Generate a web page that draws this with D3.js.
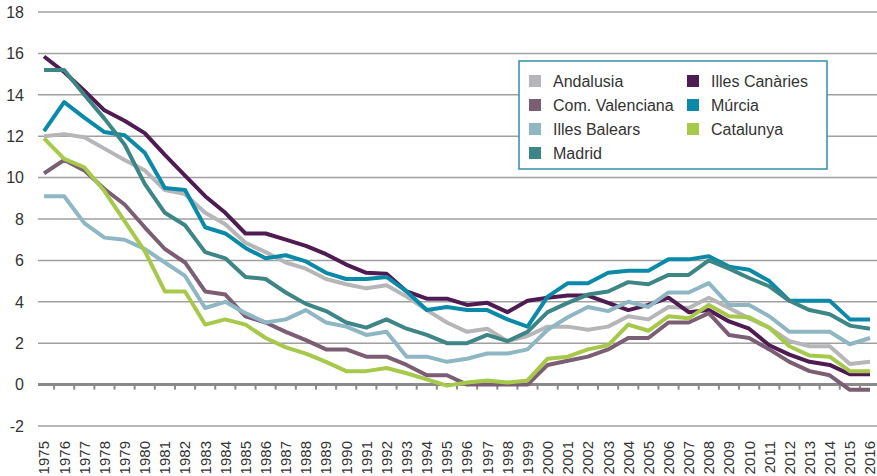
<!DOCTYPE html>
<html>
<head>
<meta charset="utf-8">
<script src="https://cdn.jsdelivr.net/npm/d3@7"></script>
<style>
  body { margin: 0; background: #fff; }
  text { font-family: "Liberation Sans", Arial, sans-serif; fill: #333; }
</style>
</head>
<body>
<script>
// years on the x axis
let years = d3.range(1975, 2017);

let andalusia = [12.0, 12.1, 11.95, 11.4, 10.85, 10.35, 9.4, 9.2, 8.3, 7.75, 6.85, 6.4, 5.9, 5.6, 5.1, 4.85, 4.65, 4.8, 4.25, 3.6, 3.0, 2.55, 2.7, 2.1, 2.35, 2.8, 2.8, 2.65, 2.8, 3.3, 3.15, 3.75, 3.7, 4.2, 3.7, 3.2, 2.75, 2.1, 1.85, 1.85, 1.0, 1.1];
let canaries = [15.85, 15.1, 14.2, 13.25, 12.75, 12.15, 11.1, 10.1, 9.1, 8.3, 7.3, 7.3, 7.0, 6.7, 6.3, 5.8, 5.4, 5.35, 4.5, 4.15, 4.15, 3.85, 3.95, 3.5, 4.05, 4.2, 4.3, 4.3, 3.95, 3.6, 3.85, 4.2, 3.5, 3.6, 3.05, 2.7, 1.9, 1.45, 1.1, 0.95, 0.5, 0.5];
let valenciana = [10.2, 10.85, 10.35, 9.45, 8.7, 7.6, 6.55, 5.9, 4.5, 4.35, 3.3, 3.0, 2.55, 2.15, 1.7, 1.7, 1.35, 1.35, 0.95, 0.45, 0.45, 0.0, 0.0, 0.0, 0.0, 0.95, 1.15, 1.35, 1.7, 2.25, 2.25, 3.0, 3.0, 3.45, 2.4, 2.25, 1.7, 1.1, 0.65, 0.45, -0.25, -0.25];
let murcia = [12.25, 13.65, 12.9, 12.2, 12.05, 11.2, 9.5, 9.4, 7.6, 7.3, 6.6, 6.1, 6.25, 5.95, 5.4, 5.1, 5.1, 5.2, 4.5, 3.6, 3.75, 3.6, 3.6, 3.15, 2.8, 4.25, 4.9, 4.9, 5.4, 5.5, 5.5, 6.05, 6.05, 6.2, 5.7, 5.55, 5.0, 4.05, 4.05, 4.05, 3.15, 3.15];
let balears = [9.1, 9.1, 7.8, 7.1, 7.0, 6.55, 5.9, 5.25, 3.7, 4.0, 3.45, 3.0, 3.15, 3.6, 3.0, 2.8, 2.4, 2.55, 1.35, 1.35, 1.1, 1.25, 1.5, 1.5, 1.7, 2.65, 3.25, 3.75, 3.55, 4.0, 3.75, 4.45, 4.45, 4.9, 3.85, 3.85, 3.3, 2.55, 2.55, 2.55, 1.95, 2.25];
let catalunya = [11.9, 10.9, 10.5, 9.35, 7.9, 6.45, 4.5, 4.5, 2.9, 3.15, 2.9, 2.25, 1.8, 1.5, 1.1, 0.65, 0.65, 0.8, 0.55, 0.25, -0.05, 0.1, 0.2, 0.1, 0.2, 1.25, 1.35, 1.7, 1.9, 2.9, 2.6, 3.3, 3.2, 3.85, 3.3, 3.25, 2.75, 1.85, 1.4, 1.35, 0.65, 0.65];
let madrid = [15.2, 15.2, 14.0, 12.85, 11.6, 9.7, 8.3, 7.7, 6.4, 6.1, 5.2, 5.1, 4.45, 3.9, 3.55, 3.0, 2.75, 3.15, 2.7, 2.4, 2.0, 2.0, 2.4, 2.1, 2.55, 3.5, 3.95, 4.35, 4.5, 4.95, 4.85, 5.3, 5.3, 6.0, 5.6, 5.15, 4.75, 4.05, 3.6, 3.4, 2.85, 2.7];

let seriesNames = ["Andalusia", "Illes Canàries", "Com. Valenciana", "Múrcia", "Illes Balears", "Catalunya", "Madrid"];
let seriesValues = [andalusia, canaries, valenciana, murcia, balears, catalunya, madrid];
let seriesColors = ["#b6b6b9", "#4e1b52", "#7b5e74", "#0a8aa8", "#8eb7c3", "#a7c94b", "#3e8686"];

let yTicks = [-2, 0, 2, 4, 6, 8, 10, 12, 14, 16, 18];

let width = 877, height = 476;

let svg = d3.select("body").append("svg")
    .attr("width", width)
    .attr("height", height);

let x = d3.scalePoint()
    .domain(years)
    .range([44, 870]);

let y = d3.scaleLinear()
    .domain([-2, 18])
    .range([426, 12]);

// gridlines
svg.append("g")
    .selectAll("line")
    .data(yTicks.filter(d => d !== 0))
    .enter().append("line")
    .attr("x1", 38)
    .attr("x2", width)
    .attr("y1", d => y(d))
    .attr("y2", d => y(d))
    .attr("stroke", "#a0a0a0")
    .attr("stroke-width", 1.5);

// y labels
svg.append("g")
    .selectAll("text")
    .data(yTicks)
    .enter().append("text")
    .attr("x", 24)
    .attr("y", d => y(d))
    .attr("dy", "0.36em")
    .attr("text-anchor", "end")
    .style("font-size", "16px")
    .text(d => d);

// zero axis with ticks between years
let step = x.step();
svg.append("line")
    .attr("x1", 38)
    .attr("x2", width)
    .attr("y1", y(0))
    .attr("y2", y(0))
    .attr("stroke", "#8a8a8a")
    .attr("stroke-width", 3);

svg.append("g")
    .selectAll("line")
    .data(years.slice(0, -1))
    .enter().append("line")
    .attr("x1", d => x(d) + step / 2)
    .attr("x2", d => x(d) + step / 2)
    .attr("y1", y(0))
    .attr("y2", y(0) + 5)
    .attr("stroke", "#8a8a8a")
    .attr("stroke-width", 2);

// x labels (rotated)
svg.append("g")
    .selectAll("text")
    .data(years)
    .enter().append("text")
    .attr("transform", d => "translate(" + x(d) + ",441) rotate(-90)")
    .attr("dy", "0.36em")
    .attr("text-anchor", "end")
    .style("font-size", "15px")
    .text(d => d);

// lines
let line = d3.line()
    .x((d, i) => x(years[i]))
    .y(d => y(d));

svg.append("g")
    .selectAll("path")
    .data(seriesValues)
    .enter().append("path")
    .attr("d", line)
    .attr("fill", "none")
    .attr("stroke", (d, i) => seriesColors[i])
    .attr("stroke-width", 4)
    .attr("stroke-linejoin", "round");

// legend
let legend = svg.append("g").attr("transform", "translate(519,61)");
legend.append("rect")
    .attr("width", 308)
    .attr("height", 108)
    .attr("fill", "#fff")
    .attr("stroke", "#2f8fa6")
    .attr("stroke-width", 1.5);

let legendOrder = ["Andalusia", "Com. Valenciana", "Illes Balears", "Madrid", "Illes Canàries", "Múrcia", "Catalunya"];
let item = legend.selectAll(".item")
    .data(legendOrder)
    .enter().append("g")
    .attr("class", "item")
    .attr("transform", (d, i) => "translate(" + (i < 4 ? 10 : 168) + "," + (20 + (i % 4) * 24) + ")");

item.append("rect")
    .attr("x", 0)
    .attr("y", -6)
    .attr("width", 12)
    .attr("height", 12)
    .attr("fill", d => seriesColors[seriesNames.indexOf(d)]);

item.append("text")
    .attr("x", 24)
    .attr("dy", "0.36em")
    .style("font-size", "16px")
    .text(d => d);
</script>
</body>
</html>
